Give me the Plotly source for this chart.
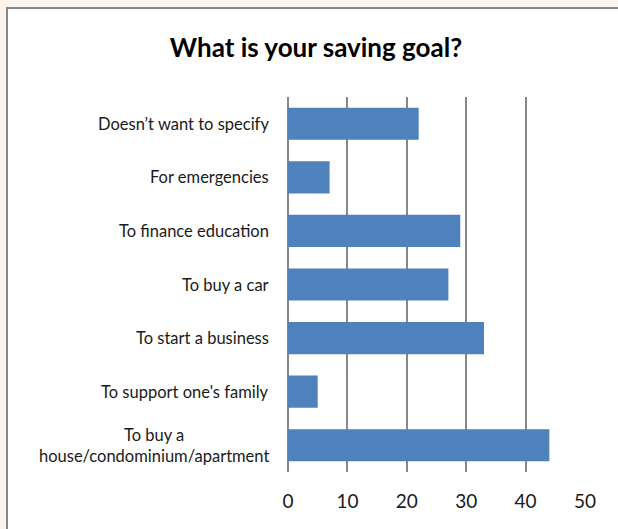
import plotly.graph_objects as go

categories = [
    "Doesn’t want to specify",
    "For emergencies",
    "To finance education",
    "To buy a car",
    "To start a business",
    "To support one's family",
    "To buy a<br>house/condominium/apartment",
]
values = [22, 7, 29, 27, 33, 5, 44]
x_ticks = [0, 10, 20, 30, 40, 50]

W, H = 618, 529
L, R, T, B = 288, 33, 97, 57
pw, ph = W - L - R, H - T - B

FONT = "Lato, Carlito, sans-serif"

fig = go.Figure()
fig.add_trace(go.Bar(
    x=values, y=categories, orientation="h",
    marker=dict(color="#4F81BD", line=dict(width=0)),
    width=0.6, hoverinfo="x+y",
))

def px_x(p):
    return (p - L) / pw

def px_y(p):
    return (H - B - p) / ph

shapes = [dict(
    type="rect", xref="paper", yref="paper", layer="below",
    x0=px_x(7), x1=px_x(640), y0=px_y(8), y1=px_y(560),
    fillcolor="white", line=dict(color="#878787", width=2),
)]

annotations = [dict(
    x=0, xref="paper", y=c, yref="y", text=c, showarrow=False,
    xanchor="right", align="center", xshift=-17,
    font=dict(family=FONT, size=16.5, color="#1a1a1a"),
) for c in categories]

fig.update_layout(
    width=W, height=H,
    margin=dict(l=L, r=R, t=T, b=B, pad=0),
    paper_bgcolor="#FCF3EC",
    plot_bgcolor="rgba(0,0,0,0)",
    showlegend=False,
    bargap=0.4,
    title=dict(
        text="<b>What is your saving goal?</b>",
        x=316 / W, xanchor="center", y=1 - 48 / H, yanchor="middle",
        font=dict(family=FONT, size=26, color="#000000"),
    ),
    xaxis=dict(
        range=[0, 50], tickvals=x_ticks, ticktext=[str(v) for v in x_ticks],
        showgrid=True, gridcolor="#878787", gridwidth=1.5,
        zeroline=True, zerolinecolor="#878787", zerolinewidth=1.5,
        showline=False, ticks="", ticklabelstandoff=16,
        tickfont=dict(family=FONT, size=19, color="#1a1a1a"),
        fixedrange=True,
    ),
    yaxis=dict(
        categoryorder="array", categoryarray=categories[::-1],
        showticklabels=False, showgrid=False, zeroline=False, showline=False,
        ticks="", fixedrange=True,
    ),
    shapes=shapes,
    annotations=annotations,
)

fig.write_html(
    "out.html",
    config={"displayModeBar": False},
    post_script="document.body.style.margin='0';document.body.style.overflow='hidden';",
)
